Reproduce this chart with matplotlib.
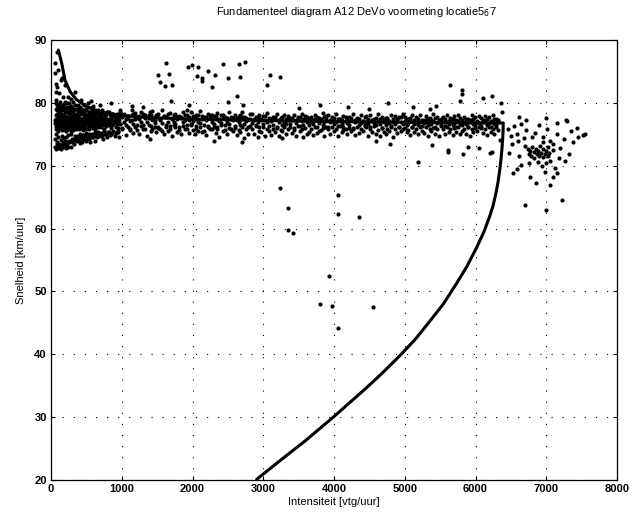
import matplotlib
matplotlib.use('Agg')
import matplotlib.pyplot as plt

plt.rcParams['font.family'] = ['Liberation Sans', 'DejaVu Sans']

# fitted fundamental diagram (free-flow branch + congested branch)
curve_x = [104, 151, 198, 269, 363, 505, 693, 928, 1300, 2000, 3000, 4000, 5000, 6000,
           6392, 6390, 6384, 6375, 6362, 6346, 6320, 6290, 6250, 6205, 6120, 6017,
           5880, 5734, 5545, 5357, 5150, 4933, 4700, 4462, 3990, 3590, 3250, 2907]
curve_y = [88.4, 86.3, 83.6, 81.8, 80.5, 79.4, 78.6, 78.1, 77.7, 77.4, 77.2, 77.0, 76.9, 76.8,
           76.8, 75.6, 74.2, 72.8, 71.2, 69.6, 67.5, 65.7, 63.7, 62.1, 59.5, 57.0,
           54.0, 51.3, 48.0, 45.3, 42.4, 39.8, 37.2, 34.7, 30.0, 26.2, 23.2, 20.1]

# dense cloud at low intensity
blob_x = [58, 66, 74, 81, 89, 96, 104, 111, 119, 127,
          134, 142, 150, 157, 165, 173, 181, 188, 196, 204,
          212, 220, 228, 236, 244, 252, 260, 268, 276, 285,
          293, 301, 310, 318, 327, 335, 344, 352, 361, 370,
          379, 388, 397, 406, 415, 424, 433, 443, 452, 462,
          471, 481, 491, 501, 511, 521, 531, 541, 552, 562,
          573, 584, 595, 606, 617, 628, 640, 652, 664, 676,
          688, 700, 713, 726, 739, 752, 766, 780, 794, 808,
          822, 837, 852, 867, 882, 898, 914, 930, 946, 962]
blob_y1 = [76.8, 77.5, 75.9, 78.2, 76.4, 77.1, 75.6, 78.0, 76.9, 77.6,
           76.1, 78.3, 75.7, 77.4, 76.6, 78.1, 75.8, 77.2, 76.3, 77.9,
           75.5, 77.7, 76.5, 78.4, 75.9, 77.0, 76.2, 78.2, 75.6, 77.5,
           77.8, 76.0, 77.3, 75.7, 78.1, 76.7, 77.6, 75.9, 78.0, 76.4,
           76.2, 77.9, 75.8, 77.4, 76.5, 78.2, 76.0, 77.1, 75.7, 77.8,
           77.5, 76.1, 78.0, 75.9, 77.2, 76.6, 77.9, 75.8, 77.4, 76.3,
           76.7, 77.8, 76.0, 77.3, 75.8, 78.1, 76.4, 77.6, 76.1, 77.2,
           77.6, 76.2, 77.9, 76.5, 77.1, 75.9, 77.7, 76.3, 77.4, 76.8,
           76.4, 77.5, 76.0, 77.8, 76.6, 77.2, 76.1, 77.6, 76.8, 77.3]
blob_y2 = [74.2, 79.1, 75.0, 78.8, 73.8, 79.4, 74.6, 78.5, 73.5, 79.0,
           78.7, 74.1, 79.3, 74.8, 78.9, 73.6, 79.2, 74.4, 78.6, 73.9,
           74.5, 78.9, 73.7, 79.0, 74.9, 78.4, 74.0, 79.3, 75.1, 78.7,
           79.0, 74.3, 78.6, 73.9, 78.8, 74.7, 79.1, 74.2, 78.3, 74.8,
           74.6, 78.5, 74.1, 79.2, 75.0, 78.7, 74.4, 78.9, 74.9, 78.2,
           78.4, 74.8, 78.9, 75.2, 78.1, 74.5, 78.6, 75.0, 78.3, 74.7,
           75.1, 78.2, 74.6, 78.7, 75.3, 78.0, 74.9, 78.5, 75.4, 78.1,
           78.3, 75.2, 77.9, 74.8, 78.4, 75.5, 78.0, 75.1, 78.6, 75.3,
           75.4, 78.1, 75.0, 78.2, 75.6, 77.9, 75.2, 78.3, 75.5, 78.0]
blob_y3 = [73.0, 80.0, 72.6, 79.6, 73.4, 76.3, 72.8, 79.8, 73.2, 76.9,
           79.5, 72.7, 77.2, 73.3, 79.7, 72.9, 76.5, 73.6, 80.1, 73.1,
           72.8, 79.4, 73.5, 76.8, 73.0, 79.9, 73.7, 77.0, 72.9, 79.5,
           73.8, 79.2, 74.0, 76.6, 73.4, 79.6, 74.2, 77.3, 73.9, 79.1,
           79.0, 74.1, 76.9, 73.6, 79.3, 74.5, 77.4, 73.8, 78.9, 74.3,
           74.4, 78.8, 73.9, 79.0, 74.6, 76.7, 74.2, 78.6, 73.7, 79.2,
           78.7, 74.5, 77.1, 74.8, 78.5, 74.0, 76.5, 74.6, 78.9, 74.9,
           74.7, 78.4, 75.0, 78.8, 74.3, 77.6, 75.1, 78.2, 74.6, 78.5,
           78.6, 74.9, 78.1, 75.2, 78.3, 74.8, 77.9, 75.3, 78.0, 74.5]
blob_y4 = [77.2, 76.3, 78.0, 76.7, 77.4, 75.9, 77.9, 76.5, 77.1, 76.0,
           77.6, 76.4, 77.0, 76.9, 77.8, 76.2, 77.3, 76.8, 77.7, 76.5,
           76.9, 77.4, 76.1, 77.0, 76.7, 77.6, 76.4, 77.2, 76.8, 77.9,
           76.3, 77.5, 76.8, 77.1, 76.5, 77.7, 76.2, 77.3, 76.9, 77.0,
           77.3, 76.6, 77.6, 76.3, 77.0, 76.8, 77.5, 76.4, 77.2, 76.7,
           76.8, 77.3, 76.5, 77.7, 76.9, 77.1, 76.3, 77.5, 76.7, 77.0,
           77.1, 76.6, 77.4, 76.8, 77.0, 76.4, 77.6, 76.9, 77.2, 76.5,
           76.9, 77.2, 76.6, 77.5, 76.8, 77.0, 76.4, 77.3, 76.7, 77.1,
           77.0, 76.7, 77.3, 76.5, 77.1, 76.9, 77.4, 76.6, 77.2, 76.8]

# free-flow band 1000 - 6400 vtg/uur
band_x = [950, 975, 1003, 1029, 1058, 1084, 1110, 1139, 1165, 1192,
          1218, 1247, 1273, 1300, 1326, 1355, 1381, 1408, 1434, 1463,
          1489, 1516, 1542, 1571, 1597, 1624, 1650, 1679, 1705, 1732,
          1758, 1787, 1813, 1840, 1866, 1895, 1921, 1948, 1974, 2003,
          2029, 2056, 2082, 2111, 2137, 2164, 2190, 2219, 2245, 2272,
          2298, 2327, 2353, 2380, 2406, 2435, 2461, 2488, 2514, 2543,
          2569, 2596, 2622, 2651, 2677, 2704, 2730, 2759, 2785, 2812,
          2838, 2867, 2893, 2920, 2946, 2975, 3001, 3028, 3054, 3083,
          3109, 3136, 3162, 3191, 3217, 3244, 3270, 3299, 3325, 3352,
          3378, 3407, 3433, 3460, 3486, 3515, 3541, 3568, 3594, 3623,
          3649, 3676, 3702, 3731, 3757, 3784, 3810, 3839, 3865, 3892,
          3918, 3947, 3973, 4000, 4026, 4055, 4081, 4108, 4134, 4163,
          4189, 4216, 4242, 4271, 4297, 4324, 4350, 4379, 4405, 4432,
          4458, 4487, 4513, 4540, 4566, 4595, 4621, 4648, 4674, 4703,
          4729, 4756, 4782, 4811, 4837, 4864, 4890, 4919, 4945, 4972,
          4998, 5027, 5053, 5080, 5106, 5135, 5161, 5188, 5214, 5243,
          5269, 5296, 5322, 5351, 5377, 5404, 5430, 5459, 5485, 5512,
          5538, 5567, 5593, 5620, 5646, 5675, 5701, 5728, 5754, 5783,
          5809, 5836, 5862, 5891, 5917, 5944, 5970, 5999, 6025, 6052,
          6078, 6107, 6133, 6160, 6186, 6215, 6241, 6268, 6294, 6323]
band_y_a = [77.3, 76.6, 77.8, 76.9, 77.5, 76.2, 77.1, 78.0, 76.7, 77.4,
            76.4, 77.9, 77.0, 76.5, 77.6, 76.9, 78.1, 76.3, 77.2, 76.8,
            77.7, 76.1, 77.3, 76.8, 77.9, 76.5, 77.0, 76.3, 77.6, 76.9,
            76.6, 77.4, 76.2, 77.8, 76.9, 77.2, 76.4, 77.7, 76.7, 77.1,
            77.5, 76.3, 77.0, 76.8, 77.9, 76.5, 77.3, 76.1, 77.6, 76.9,
            76.7, 77.4, 76.2, 77.1, 76.8, 77.7, 76.4, 77.0, 76.6, 77.5,
            77.2, 76.3, 77.6, 76.9, 76.5, 77.8, 76.7, 77.1, 76.2, 77.4,
            76.8, 77.3, 76.4, 77.0, 76.1, 77.5, 76.6, 77.2, 76.9, 76.3,
            77.1, 76.5, 77.4, 76.2, 76.9, 77.6, 76.4, 77.0, 76.7, 77.3,
            76.6, 77.2, 76.0, 76.8, 77.5, 76.3, 77.1, 76.5, 77.3, 76.9,
            76.4, 77.0, 76.7, 77.4, 76.1, 76.8, 77.2, 76.5, 76.9, 77.5,
            76.2, 76.9, 77.3, 76.6, 77.0, 76.3, 77.4, 76.7, 76.1, 77.1,
            76.8, 76.4, 77.2, 76.0, 76.9, 77.3, 76.5, 76.8, 77.1, 76.3,
            77.0, 76.6, 76.2, 77.3, 76.8, 76.4, 77.1, 76.7, 76.0, 76.9,
            76.5, 77.2, 76.8, 76.3, 77.0, 76.6, 77.4, 76.2, 76.9, 76.7,
            77.1, 76.4, 76.8, 77.3, 76.1, 76.7, 77.0, 76.5, 76.9, 76.3,
            76.8, 77.2, 76.4, 76.9, 76.6, 77.1, 76.2, 76.8, 77.3, 76.5,
            76.9, 76.3, 77.0, 76.6, 77.2, 76.4, 76.8, 76.1, 77.1, 76.7,
            76.5, 77.0, 76.7, 76.2, 76.9, 77.3, 76.6, 76.4, 77.0, 76.8,
            76.3, 76.9, 77.1, 76.5, 76.8, 76.2, 77.0, 76.7, 76.4, 76.9]
band_y_b = [75.4, 78.6, 76.0, 78.2, 74.9, 77.9, 75.7, 78.8, 75.2, 78.4,
            77.8, 75.1, 78.5, 75.8, 78.0, 74.7, 77.6, 75.5, 78.7, 76.1,
            75.3, 78.3, 75.9, 78.9, 75.0, 77.7, 75.6, 78.4, 74.8, 78.1,
            78.2, 75.4, 77.9, 75.1, 78.6, 75.8, 78.0, 75.2, 78.5, 75.7,
            75.0, 78.1, 75.6, 78.7, 75.3, 77.8, 74.9, 78.3, 75.9, 78.0,
            77.9, 75.2, 78.4, 74.6, 78.1, 75.5, 77.7, 75.0, 78.6, 75.8,
            75.5, 78.0, 74.9, 77.8, 75.3, 78.5, 74.4, 77.6, 75.1, 78.2,
            78.3, 75.0, 77.7, 74.5, 78.0, 75.4, 77.9, 74.8, 78.4, 75.6,
            74.9, 77.8, 75.3, 78.2, 74.7, 77.5, 75.6, 78.1, 75.0, 77.9,
            77.6, 75.2, 78.0, 74.8, 77.7, 75.5, 78.3, 74.6, 77.9, 75.1,
            75.4, 77.8, 74.9, 78.1, 75.2, 77.6, 75.7, 78.4, 74.7, 77.9,
            78.0, 75.0, 77.7, 75.5, 78.2, 74.8, 77.5, 75.3, 77.9, 75.8,
            75.1, 77.8, 75.6, 78.3, 74.9, 77.6, 75.2, 78.0, 75.5, 77.7,
            77.9, 74.7, 78.1, 75.3, 77.5, 75.0, 78.2, 74.8, 77.8, 75.4,
            75.0, 77.6, 75.5, 78.0, 74.6, 77.9, 75.2, 77.7, 75.6, 78.3,
            77.8, 75.3, 77.5, 74.9, 78.1, 75.4, 77.7, 75.0, 78.0, 75.6,
            75.2, 77.9, 74.8, 77.6, 75.5, 78.2, 75.0, 77.8, 74.7, 77.5,
            77.7, 75.1, 78.0, 75.4, 77.6, 74.9, 77.9, 75.3, 78.1, 75.0,
            75.5, 77.8, 75.0, 77.5, 74.8, 78.0, 75.3, 77.7, 75.6, 77.9,
            77.6, 75.2, 77.9, 74.9, 77.7, 75.4, 78.0, 75.1, 77.5, 75.7]
band_y_c = [76.0, 77.9, 75.8, 78.1, 76.4, 77.6, 75.9, 77.2, 78.3, 76.2,
            75.7, 77.5, 76.3, 78.2, 75.9, 77.7, 76.5, 78.0, 75.8, 77.3,
            78.1, 76.0, 77.4, 75.6, 77.9, 76.2, 78.2, 75.9, 77.5, 76.4,
            76.1, 77.8, 75.7, 77.6, 76.3, 78.0, 75.9, 77.3, 76.5, 77.9,
            77.7, 75.8, 78.1, 76.1, 77.4, 75.6, 77.8, 76.3, 78.0, 75.9,
            76.2, 77.9, 75.8, 77.5, 76.4, 78.1, 75.7, 77.6, 76.0, 77.8,
            77.6, 76.0, 77.3, 75.7, 78.0, 76.2, 77.7, 75.9, 77.4, 76.3,
            75.9, 77.5, 76.3, 77.8, 75.6, 77.2, 76.1, 77.9, 75.8, 77.6,
            77.4, 75.8, 77.7, 76.0, 77.3, 75.7, 77.8, 76.2, 77.5, 75.9,
            76.1, 77.6, 75.7, 77.3, 76.3, 77.8, 75.9, 77.4, 76.0, 77.7,
            77.5, 75.9, 77.2, 76.2, 77.7, 75.6, 77.4, 76.0, 77.8, 76.1,
            75.8, 77.3, 76.1, 77.6, 75.9, 77.5, 76.3, 77.2, 75.7, 77.7,
            77.4, 76.0, 77.6, 75.8, 77.3, 76.2, 77.5, 75.9, 77.1, 76.4,
            76.1, 77.5, 75.9, 77.2, 76.3, 77.6, 75.7, 77.4, 76.0, 77.3,
            77.6, 75.8, 77.1, 76.2, 77.5, 75.9, 77.3, 76.1, 77.7, 75.8,
            76.0, 77.4, 75.7, 77.6, 76.2, 77.2, 75.9, 77.5, 76.1, 77.3,
            77.2, 76.1, 77.5, 75.8, 77.3, 76.0, 77.6, 75.9, 77.1, 76.3,
            75.9, 77.4, 76.2, 77.1, 75.8, 77.5, 76.0, 77.3, 76.1, 77.6,
            77.3, 75.9, 77.5, 76.1, 77.2, 75.8, 77.4, 76.0, 77.1, 76.2,
            76.0, 77.3, 75.9, 77.5, 76.2, 77.1, 75.8, 77.4, 76.1, 77.2]

# scatter above the curve at very low intensity
upper_left_x = [85, 57, 99, 155, 85, 170, 127, 339, 60, 70,
                115, 200, 240, 280, 190, 140, 65, 230, 310, 380,
                420, 460, 520, 560, 600, 150, 95, 75]
upper_left_y = [88.1, 86.3, 85.2, 84.0, 82.5, 80.9, 80.1, 81.7, 84.7, 83.0,
                81.5, 82.9, 81.0, 80.6, 79.8, 83.6, 80.5, 79.9, 80.2, 79.6,
                80.4, 79.7, 79.9, 80.3, 79.5, 79.3, 79.7, 81.8]

# high-speed outliers 1500 - 3200
top_x = [1625, 1512, 1668, 1540, 1611, 1710, 1696, 1936, 1993, 2078,
         2064, 2134, 2134, 2219, 2318, 2276, 2431, 2502, 2657, 2742,
         2671, 2629, 2502, 2714, 3095, 3237, 3053, 1950, 1922, 692,
         975, 1300, 1400, 1150, 850]
top_y = [86.3, 84.4, 84.6, 83.3, 82.7, 82.8, 80.3, 85.7, 86.0, 85.7,
         84.3, 84.0, 83.5, 85.1, 84.4, 82.5, 86.2, 84.0, 86.2, 86.5,
         84.1, 81.1, 80.1, 79.7, 84.4, 84.1, 82.8, 79.7, 78.9, 79.7,
         78.9, 79.3, 78.5, 79.5, 79.9]

# other scattered measurements
mid_x = [5640, 5809, 5809, 5781, 6106, 6233, 6360, 6374, 4763, 5117,
         5357, 5442, 3500, 3800, 4200, 4500, 3237, 3350, 3350, 3420,
         4056, 4056, 4353, 5187, 5611, 5823, 6205, 3929, 3802, 3972,
         4551, 4056, 3265, 4791, 5385, 5611, 6233, 6346, 1400, 2300,
         2700, 4600, 5900, 6050]
mid_y = [82.8, 82.0, 81.4, 80.3, 80.8, 81.1, 80.0, 78.6, 80.0, 79.3,
         79.0, 79.5, 79.2, 79.6, 79.4, 79.1, 66.5, 63.3, 59.8, 59.3,
         65.3, 62.3, 61.8, 70.6, 72.2, 71.8, 72.0, 52.5, 48.0, 47.7,
         47.5, 44.2, 74.4, 73.5, 73.3, 72.5, 72.2, 74.1, 74.3, 74.0,
         73.8, 73.9, 73.0, 72.8]

# cluster beyond capacity
cl_x = [6460, 6500, 6520, 6480, 6550, 6580, 6600, 6620, 6530, 6650,
        6680, 6700, 6720, 6740, 6760, 6770, 6790, 6800, 6820, 6830,
        6850, 6870, 6880, 6900, 6910, 6930, 6950, 6960, 6980, 7000,
        7020, 7040, 7050, 6990, 6940, 6880, 6770, 6982, 7095, 7152,
        7223, 6700, 6996, 6840, 6900, 6960, 7010, 7060, 7100, 7150,
        7200, 7250, 7279, 7293, 7435, 7520, 7548, 7380, 7320, 7260,
        7180, 7120, 7060, 6860, 6640, 6580, 6720, 6610, 7000, 7150,
        7350, 7450, 7100, 6950, 6800, 6760, 7030]
cl_y = [75.9, 74.8, 73.5, 72.1, 76.3, 75.1, 73.9, 71.6, 68.8, 76.6,
        74.4, 73.2, 75.7, 72.6, 71.8, 72.4, 71.5, 72.9, 72.2, 71.3,
        72.7, 71.9, 72.4, 71.6, 73.1, 72.0, 71.4, 72.6, 71.9, 72.3,
        71.5, 72.1, 70.8, 70.4, 69.9, 70.6, 68.2, 69.0, 68.2, 68.8,
        64.5, 63.7, 63.0, 75.2, 76.4, 74.6, 75.8, 74.0, 73.4, 75.1,
        72.8, 74.3, 77.3, 77.1, 76.0, 74.9, 75.0, 73.7, 71.9, 70.7,
        71.2, 69.6, 66.9, 67.3, 70.1, 69.4, 77.2, 77.8, 77.6, 76.8,
        75.5, 74.6, 72.5, 73.8, 74.5, 70.5, 73.0]

fig = plt.figure(figsize=(6.32, 5.19), dpi=100)
ax = fig.add_axes([51 / 632, 39 / 519, 566 / 632, 440 / 519])

dot = dict(ls='none', marker='o', ms=3.0, mew=0, color='k')
for ys in (blob_y1, blob_y2, blob_y3, blob_y4):
    ax.plot(blob_x, ys, **dot)
for ys in (band_y_a, band_y_b, band_y_c):
    ax.plot(band_x, ys, **dot)
ax.plot(upper_left_x, upper_left_y, **dot)
ax.plot(top_x, top_y, **dot)
ax.plot(mid_x, mid_y, **dot)
ax.plot(cl_x, cl_y, **dot)

ax.plot(curve_x, curve_y, color='k', lw=2.2,
        solid_joinstyle='round', solid_capstyle='round')

ax.set_xlim(0, 8000)
ax.set_ylim(20, 90)
ax.set_xticks(range(0, 8001, 1000))
ax.set_yticks(range(20, 91, 10))
ax.grid(True, color='k', linestyle=(0, (1, 9)), linewidth=0.8)
ax.tick_params(direction='in', length=3, top=True, right=True,
               labelsize=8, pad=3)
for lab in ax.get_xticklabels() + ax.get_yticklabels():
    lab.set_fontweight('bold')
for sp in ax.spines.values():
    sp.set_linestyle((0, (1, 1)))
    sp.set_linewidth(0.9)

ax.set_xlabel('Intensiteit [vtg/uur]', fontsize=8, labelpad=2)
ax.set_ylabel('Snelheid [km/uur]', fontsize=8, labelpad=6)
fig.text(356 / 632, 1 - 12 / 519,
         'Fundamenteel diagram A12 DeVo voormeting locatie5$_6$7',
         ha='center', va='center', fontsize=8)

fig.savefig('out.png', dpi=100)
